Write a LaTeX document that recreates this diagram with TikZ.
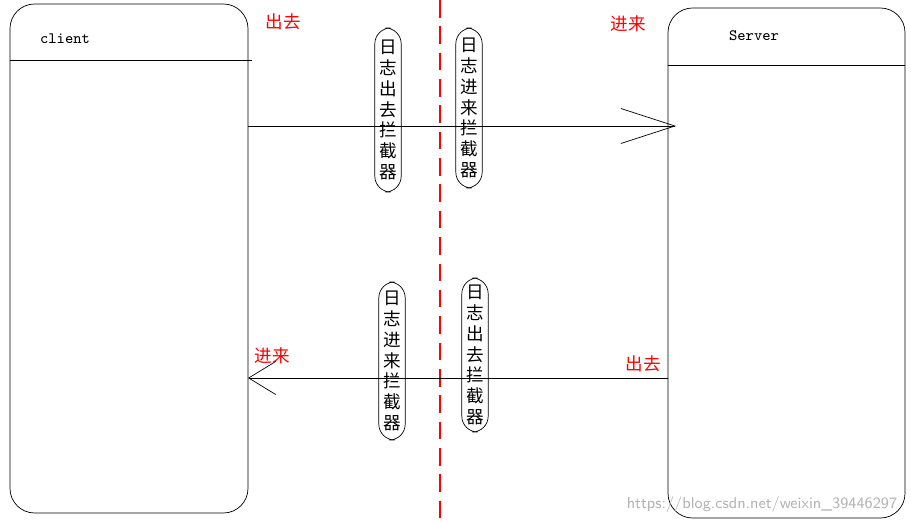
\documentclass[tikz,border=0pt]{standalone}
\usepackage{fontspec}
\newfontfamily\cjk{Noto Sans CJK SC}
\usetikzlibrary{arrows.meta}
\tikzset{
  pill/.style={draw, rounded corners=9pt, inner xsep=2.5pt, inner ysep=1pt, align=center, font=\cjk\fontsize{10}{11.8}\selectfont},
  side/.style={draw, rounded corners=14pt},
  redlbl/.style={text=red, font=\cjk\fontsize{10}{12}\selectfont},
}
\begin{document}
\begin{tikzpicture}[x=0.02cm, y=-0.02cm]
        \useasboundingbox (0, 0) rectangle (911, 523);
        % the two sides
        \draw[side] (10, 4) rectangle (248, 513);
        \draw (10, 60) -- (252, 60);
        \node[font=\ttfamily\small] (client) at (65, 39) {client};
        \draw[side] (668, 8) rectangle (905, 518);
        \draw (668, 65) -- (905, 65);
        \node[font=\ttfamily\small] (server) at (754, 36) {Server};
        % divider
        \draw[red, line width=1.6pt, dash pattern=on 10pt off 5pt] (440, 0) -- (440, 523);
        % interceptors
        \node[pill, minimum height=3.28cm] (outA) at (388, 110) {日\\志\\出\\去\\拦\\截\\器};
        \node[pill, minimum height=3.2cm] (inA) at (469, 108) {日\\志\\进\\来\\拦\\截\\器};
        \node[pill, minimum height=3.16cm] (inB) at (392, 361) {日\\志\\进\\来\\拦\\截\\器};
        \node[pill, minimum height=3.08cm] (outB) at (475, 355) {日\\志\\出\\去\\拦\\截\\器};
        % requests
        \coordinate (reqS) at (248, 126);
        \coordinate (reqE) at (676, 126);
        \coordinate (resS) at (668, 378);
        \coordinate (resE) at (248, 378);
        \draw[-{Straight Barb[length=1.08cm, width=0.7cm]}, thin] (reqS) -- (reqE);
        \draw[-{Straight Barb[length=0.54cm, width=0.66cm]}, thin] (resS) -- (resE);
        \node[redlbl] (l1) at (283, 22) {出去};
        \node[redlbl] (l2) at (628, 24) {进来};
        \node[redlbl] (l3) at (272, 356) {进来};
        \node[redlbl] (l4) at (643, 364) {出去};
        \node[text=gray!60, font=\sffamily\small] (mark) at (762, 505) {https://blog.csdn.net/weixin\_39446297};
    \end{tikzpicture}
\end{document}
